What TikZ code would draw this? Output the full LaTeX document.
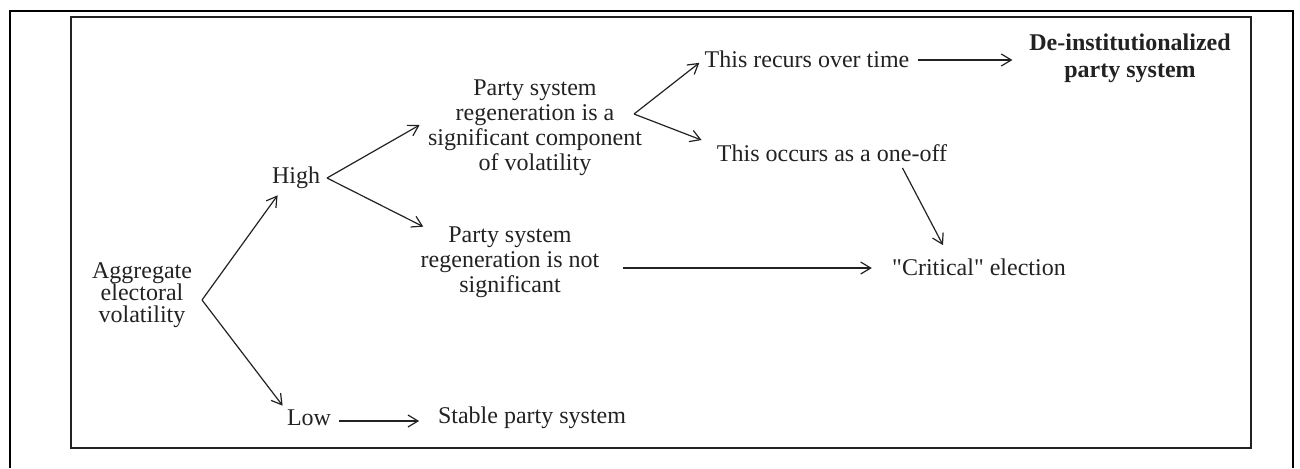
\documentclass[tikz,border=0pt]{standalone}
\usepackage{fontspec}
\setmainfont{Liberation Serif}
\usepackage{xcolor}
\usetikzlibrary{arrows.meta,calc,positioning}
\definecolor{ink}{HTML}{222222}
\tikzset{
    txt/.style={inner sep=0pt,align=center,text=ink,font=\fontsize{12}{12.5}\selectfont},
    arr/.style={draw=ink,line width=0.6pt,-{Straight Barb[length=5pt,width=6pt]}},
}

\begin{document}
\begin{tikzpicture}[x=0.5pt,y=-0.5pt]
                \useasboundingbox(0,0)rectangle(1300,468);
                \draw[line width=0.65pt](10,11)--(1293,11);
                \draw[line width=1.35pt](10,468)--(10,11)--(62,11);
                \draw[line width=1.35pt](1257,11)--(1293,11)--(1293,468);
                \draw[line width=1pt,draw=ink](71,17)rectangle(1251,448);
                \node[txt,font=\fontsize{12}{11}\selectfont] at (142,295)(agg){Aggregate\\electoral\\volatility};
                \node[txt] at (296,178)(high){High};
                \node[txt] at (309,418)(low){Low};
                \node[txt] at (532,418)(stable){Stable party system};
                \node[txt] at (535,127.5)(sig){Party system\\regeneration is a\\significant component\\of volatility};
                \node[txt] at (510,262.5)(notsig){Party system\\regeneration is not\\significant};
                \node[txt] at (807,59)(recur){This recurs over time};
                \node[txt] at (832,153)(oneoff){This occurs as a one-off};
                \node[txt,font=\fontsize{12}{13.5}\selectfont\bfseries] at (1130,58.5)(deinst){De-institutionalized\\party system};
                \node[txt] at (979,267)(crit){\textquotedbl Critical\textquotedbl{} election};
                \coordinate (fa) at (202,300);
                \coordinate (fh) at (327,178);
                \coordinate (fs) at (634,114);
                \draw[arr](fa)--($(high.south west)+(6,6)$);
                \draw[arr](fa)--($(low.north west)+(-4,-4)$);
                \draw[arr](fh)--($(sig.west)+(-8,-2.5)$);
                \draw[arr](fh)--($(notsig.north west)+(3,0)$);
                \draw[arr](fs)--($(recur.south west)+(-5,-5)$);
                \draw[arr](fs)--($(oneoff.north west)+(-15,-4)$);
                \draw[arr]($(recur.east)+(8,1)$)--($(deinst.west)+(-16.5,1.5)$);
                \draw[arr]($(notsig.east)+(23.5,5.5)$)--($(crit.west)+(-20,1)$);
                \draw[arr]($(oneoff.south east)+(-45,6)$)--($(crit.north)+(-36,-13)$);
                \draw[arr]($(low.east)+(8,3)$)--($(stable.west)+(-18.5,3)$);
            \end{tikzpicture}
\end{document}
